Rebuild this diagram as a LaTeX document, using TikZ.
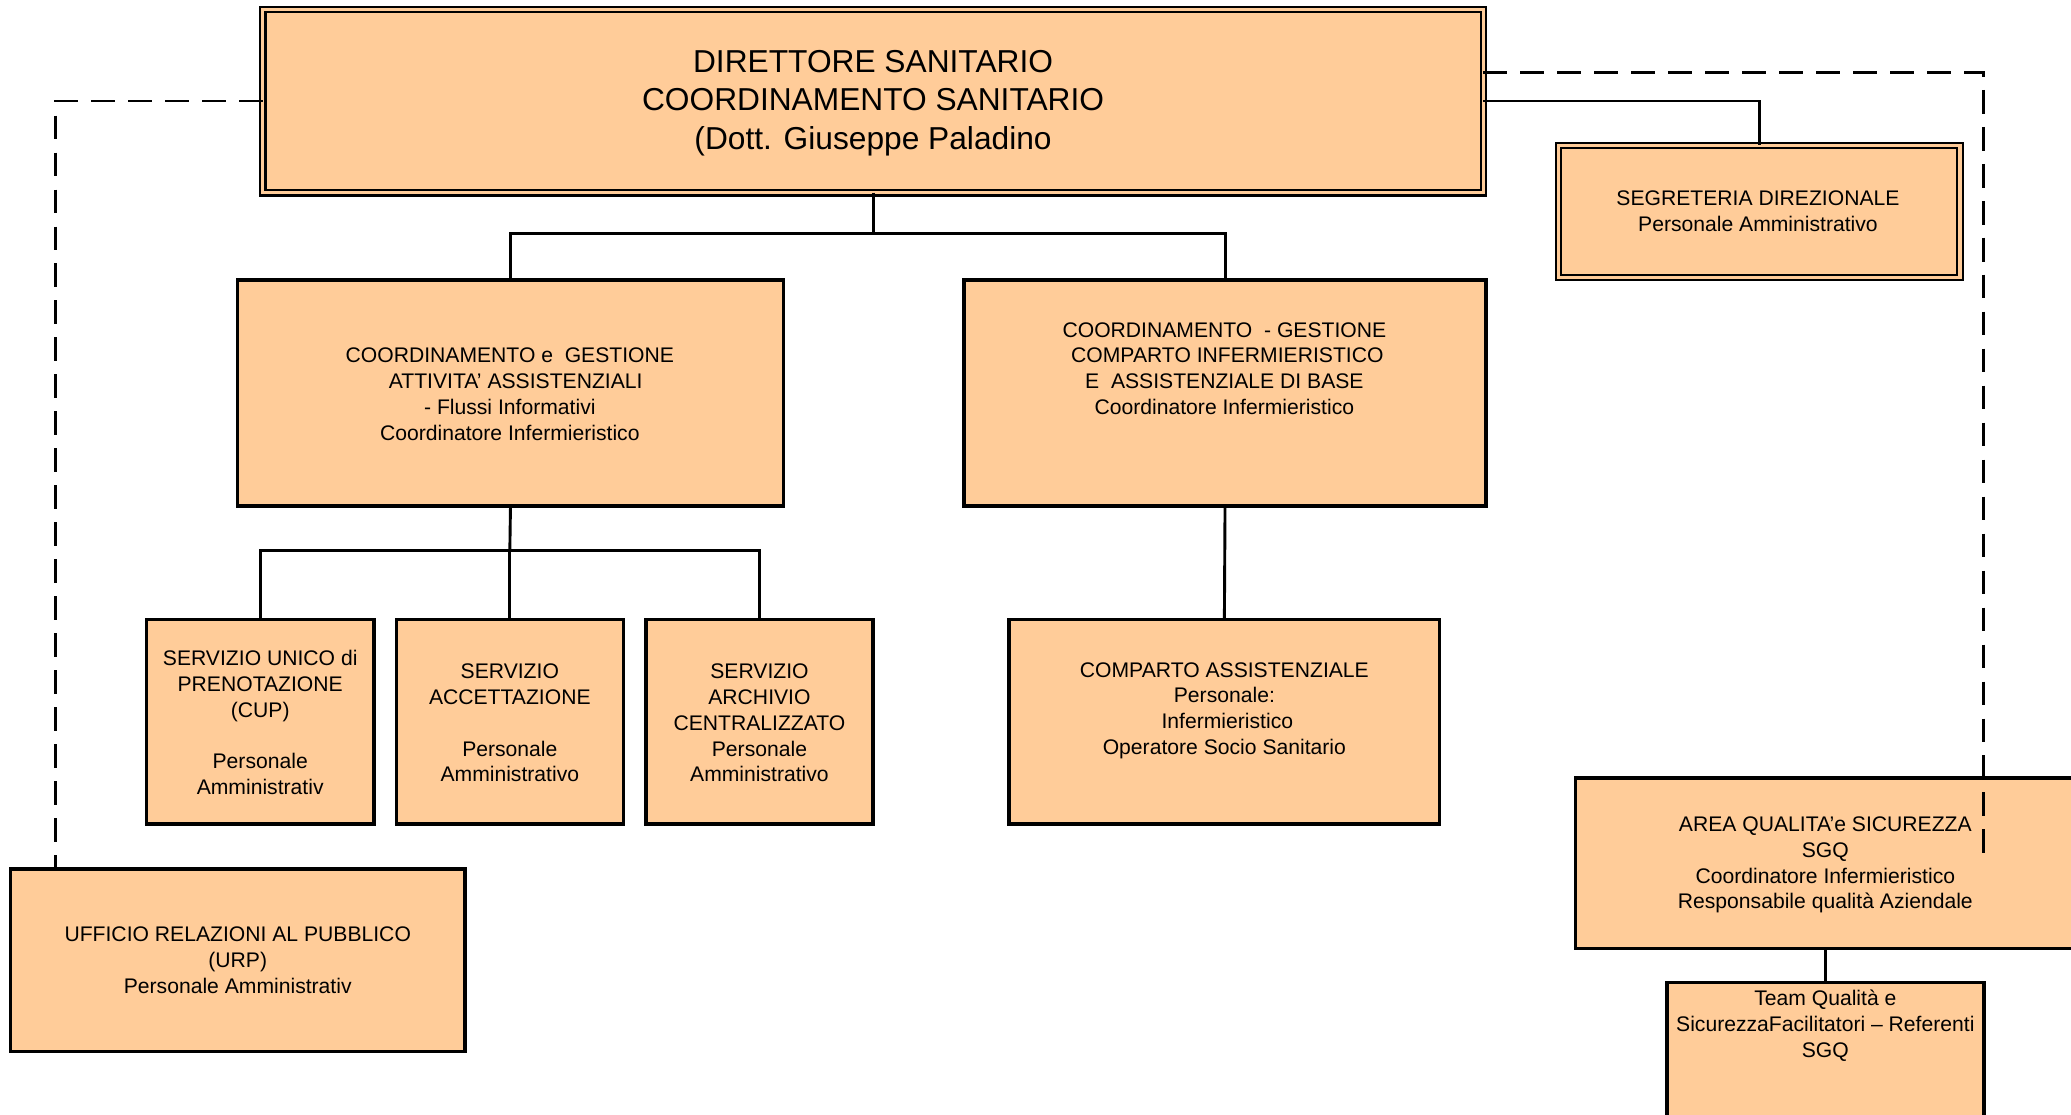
\documentclass[tikz,border=0pt]{standalone}
\usepackage{fontspec}
\setmainfont{Liberation Sans}
\usetikzlibrary{fit,calc}
\definecolor{peach}{HTML}{FFCC99}
\begin{document}
\begin{tikzpicture}[x=0.5pt,y=-0.5pt,
  box/.style={draw=black, fill=peach, line width=1.3pt, inner sep=0pt, outer sep=0pt},
  dbox/.style={draw=black, fill=peach, line width=0.8pt, double=peach, double distance=1.2pt, inner sep=0pt, outer sep=0pt},
  txt/.style={align=center, inner sep=0pt, font=\fontsize{8pt}{9.75pt}\selectfont},
  bigtxt/.style={align=center, inner sep=0pt, font=\fontsize{12pt}{14.6pt}\selectfont},
  conn/.style={draw=black, line width=1.1pt},
  dashconn/.style={draw=black, line width=1.1pt, dash pattern=on 9pt off 5pt}]
\clip (0,0) rectangle (1568,844);
\fill[white] (0,0) rectangle (1568,844);

% boxes
\node[dbox, fit={(199,7) (1123,146)}] (dir) {};
\node[dbox, fit={(1180,110) (1484,210)}] (seg) {};
\node[box, fit={(180,212) (593,383)}] (cga) {};
\node[box, fit={(730,212) (1125,383)}] (cgc) {};
\node[box, fit={(111,469) (283,624)}] (cup) {};
\node[box, fit={(300,469) (472,624)}] (acc) {};
\node[box, fit={(489,469) (661,624)}] (arch) {};
\node[box, fit={(764,469) (1090,624)}] (comp) {};
\node[box, fit={(8,658) (352,796)}] (urp) {};
\node[box, fit={(1193,589) (1571,718)}] (area) {};
\node[box, fit={(1262,744) (1502,880)}] (team) {};

% texts
\node[bigtxt] (dirt) at (661,78) {DIRETTORE SANITARIO\\COORDINAMENTO SANITARIO\\(Dott. Giuseppe Paladino};
\node[txt] (segt) at (1331,160) {SEGRETERIA DIREZIONALE\\Personale Amministrativo};
\node[txt] (cgat) at (386,298.5) {COORDINAMENTO e\ \ GESTIONE\\\ \ ATTIVITA’ ASSISTENZIALI\\- Flussi Informativi\\Coordinatore Infermieristico};
\node[txt] (cgct) at (927,279) {COORDINAMENTO\ \ - GESTIONE\\\ COMPARTO INFERMIERISTICO\\E\ \ ASSISTENZIALE DI BASE\\Coordinatore Infermieristico};
\node[txt] (cupt) at (197,547) {SERVIZIO UNICO di\\PRENOTAZIONE\\(CUP)\\[9.75pt]Personale\\Amministrativ};
\node[txt] (acct) at (386,547.5) {SERVIZIO\\ACCETTAZIONE\\[9.75pt]Personale\\Amministrativo};
\node[txt] (archt) at (575,547.5) {SERVIZIO\\ARCHIVIO\\CENTRALIZZATO\\Personale\\Amministrativo};
\node[txt] (compt) at (927,538) {COMPARTO ASSISTENZIALE\\Personale:\\\ Infermieristico\\Operatore Socio Sanitario};
\node[txt] (urpt) at (180,727) {UFFICIO RELAZIONI AL PUBBLICO\\(URP)\\Personale Amministrativ};
\node[txt] (areat) at (1382,655) {AREA QUALITA’e SICUREZZA\\SGQ\\Coordinatore Infermieristico\\Responsabile qualità Aziendale};
\node[txt] (teamt) at (1382,776.5) {Team Qualità e\\SicurezzaFacilitatori – Referenti\\SGQ};

% junction coordinates
\coordinate (j1) at (661,177);
\coordinate (j2) at (386,417);
\coordinate (dR) at (1502,55);
\coordinate (dRend) at (1502,646);
\coordinate (dL) at (42,658);

% solid connectors
\draw[conn] (dir.south) -- (j1);
\draw[conn] (j1) -| (cga.north);
\draw[conn] (j1) -| (cgc.north);
\draw[conn] (cga.south) -- (j2);
\draw[conn] (j2) -| (cup.north);
\draw[conn] (j2) -- (acc.north);
\draw[conn] (j2) -| (arch.north);
\draw[conn] (cgc.south) -- (comp.north);
\draw[conn] (dir.east) -| (seg.north);
\draw[conn] (area.south) -- (team.north);

% dashed connectors
\draw[dashconn] (dir.east |- dR) -- (dR) -- (dRend);
\draw[dashconn] (dir.west) -| (dL);
\end{tikzpicture}
\end{document}
